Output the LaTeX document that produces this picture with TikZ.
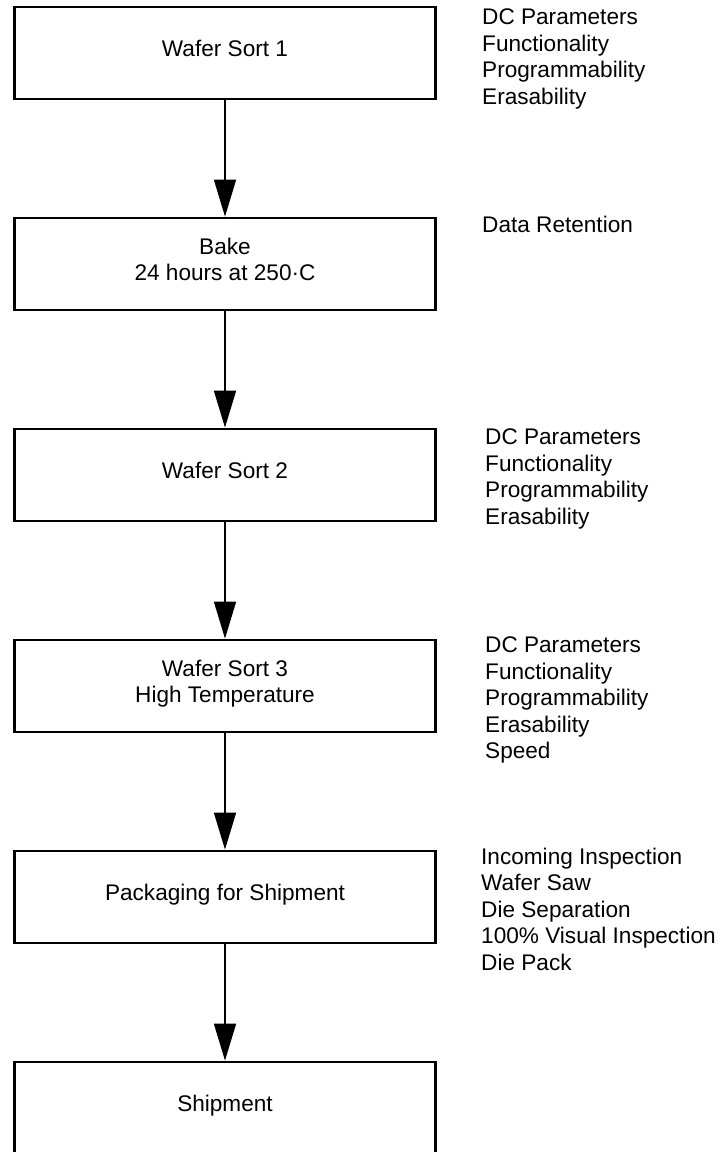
\documentclass[tikz,border=0pt]{standalone}
\usepackage{fontspec}
\setmainfont{Liberation Sans}
\usetikzlibrary{positioning,arrows.meta}

\tikzset{
  stage/.style={draw, line width=1.3pt, minimum width=210.5pt, minimum height=46pt,
    align=center, text depth=4.8pt, font=\fontsize{11.3}{13.25}\selectfont},
  tests/.style={inner sep=0pt, align=left, font=\fontsize{11.3}{13.25}\selectfont},
  flow/.style={line width=1.4pt, -{Triangle[length=18.5pt,width=10.8pt]}},
}

\begin{document}
\begin{tikzpicture}[node distance=58.2pt]

  \useasboundingbox (0,0) rectangle (362pt,-576pt);

  % process steps
  \node[stage] (sort1) at (112.5pt,-26.5pt) {Wafer Sort 1};
  \node[stage, below=of sort1] (bake) {Bake\\24 hours at 250·C};
  \node[stage, below=of bake] (sort2) {Wafer Sort 2};
  \node[stage, below=of sort2] (sort3) {Wafer Sort 3\\High Temperature};
  \node[stage, below=of sort3] (pack) {Packaging for Shipment};
  \node[stage, below=of pack] (ship) {Shipment};

  \draw[flow] (sort1) -- (bake);
  \draw[flow] (bake) -- (sort2);
  \draw[flow] (sort2) -- (sort3);
  \draw[flow] (sort3) -- (pack);
  \draw[flow] (pack) -- (ship);

  % what is checked at each step
  \node[tests, below right=1.5pt and 22.5pt of sort1.north east] (sort1tests)
    {DC Parameters\\Functionality\\Programmability\\Erasability};
  \node[tests, below right=-0.5pt and 22.5pt of bake.north east] (baketests)
    {Data Retention};
  \node[tests, below right=0.5pt and 24pt of sort2.north east] (sort2tests)
    {DC Parameters\\Functionality\\Programmability\\Erasability};
  \node[tests, below right=-1pt and 24pt of sort3.north east] (sort3tests)
    {DC Parameters\\Functionality\\Programmability\\Erasability\\Speed};
  \node[tests, below right=-1pt and 22pt of pack.north east] (packtests)
    {Incoming Inspection\\Wafer Saw\\Die Separation\\100\% Visual Inspection\\Die Pack};

\end{tikzpicture}
\end{document}
